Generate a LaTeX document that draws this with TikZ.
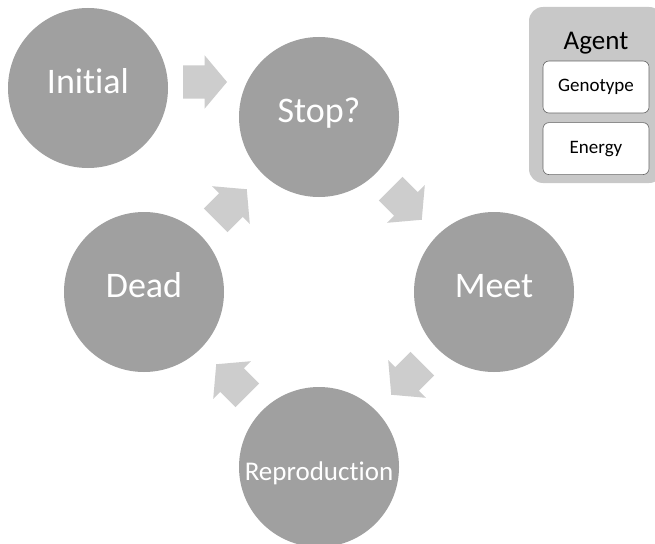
\documentclass[tikz,border=0pt]{standalone}
\usepackage{fontspec}
\setmainfont{Carlito}[Ligatures=NoCommon]
\usetikzlibrary{positioning,calc,shapes.arrows}
\definecolor{stategray}{RGB}{160,160,160}
\definecolor{arrowgray}{RGB}{205,205,205}
\definecolor{panelgray}{RGB}{200,200,200}
\tikzset{
	state/.style={circle,fill=stategray,text=white,minimum size=160pt,inner sep=0,text height=25pt,text depth=15pt,font=\fontsize{36}{40}\selectfont},
	cyclearrow/.style={single arrow,fill=arrowgray,minimum height=44pt,single arrow head extend=10pt,single arrow tip angle=100,inner xsep=0,inner ysep=16.5pt},
	panel/.style={rectangle,rounded corners=14pt,fill=panelgray,minimum width=134pt,minimum height=176pt},
	field/.style={rectangle,rounded corners=6pt,draw=gray!80!black,line width=0.6pt,fill=white,minimum width=106pt,minimum height=52pt,font=\fontsize{19}{22}\selectfont}
}
\begin{document}
\begin{tikzpicture}[x=1pt,y=-1pt]
	% Frame and distances, in pixels of the picture
	\def\w{655}
	\def\h{543}
	\def\rad{175} % States sit \rad away from the hub
	\def\at{0.47} % Arrows sit a bit before the middle
	\clip (0,0) rectangle (\w,\h);
	\fill[white] (0,0) rectangle (\w,\h);
	
	\coordinate (hub) at (319,292);
	\node[state] (init) at (88,88) {Initial};
	\node[state] (stop) at ($ (hub) + \rad*(0,-1)$) {Stop?};
	\node[state] (meet) at ($ (hub) + \rad*(1,0)$) {Meet};
	\node[state,text height=27.4pt,text depth=0pt,font=\fontsize{27}{30}\selectfont] (repro) at ($ (hub) + \rad*(0,1)$) {Reproduction};
	\node[state] (dead) at ($ (hub) + \rad*(-1,0)$) {Dead};
	
	% Block arrows between the states
	\node[cyclearrow] (go) at (198,82) {};
	\node[cyclearrow,rotate=-45] (stopmeet) at ($ (stop)!\at!(meet)$) {};
	\node[cyclearrow,rotate=-135] (meetrepro) at ($ (meet)!\at!(repro)$) {};
	\node[cyclearrow,rotate=135] (reprodead) at ($ (repro)!\at!(dead)$) {};
	\node[cyclearrow,rotate=45] (deadstop) at ($ (dead)!\at!(stop)$) {};
	
	% Agent record
	\node[panel] (agent) at (596,95) {};
	\node[field] (geno) at (596,87) {Genotype};
	\node[field,below=9pt of geno] (energy) {Energy};
	\node[font=\fontsize{27}{30}\selectfont,above=3pt of geno] (agentname) {Agent};
\end{tikzpicture}
\end{document}
